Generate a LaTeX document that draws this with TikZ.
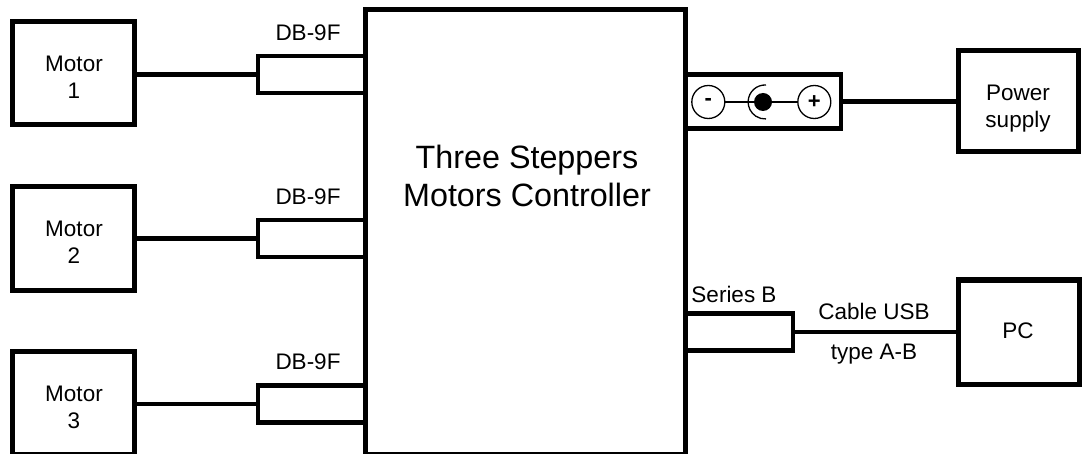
\documentclass[tikz,border=0pt]{standalone}
\usepackage{fontspec}
\setmainfont{Liberation Sans}
\usetikzlibrary{positioning}
\tikzset{
  blockbox/.style={draw,line width=5pt,inner sep=0pt,minimum width=122pt,minimum height=103pt},
  plugbox/.style={draw,line width=4.5pt,minimum width=107pt,minimum height=37pt,inner sep=0pt},
  wire/.style={line width=4.5pt},
  thinwire/.style={line width=1.3pt},
  pin/.style={draw,circle,thinwire,minimum size=33pt,inner sep=0pt,font=\fontsize{22}{22}\selectfont\bfseries},
  caption/.style={font=\fontsize{22.5}{27}\selectfont,align=center,inner sep=0pt},
}
\begin{document}
\begin{tikzpicture}[x=1pt,y=-1pt]
\useasboundingbox (0,0) rectangle (1089,454);
% controller
\node (ctrl) [blockbox,minimum width=320pt,minimum height=445pt] at (525,232) {};
\node (ctrltext) [caption,font=\fontsize{32.3}{38}\selectfont] at (527,176) {Three Steppers\\Motors Controller};
% motors
\foreach \n/\y/\c in {1/73/74.5,2/238.5/238.7,3/403/404}{
  \node (m\n) [blockbox] at (73.5,\y) {};
  \node (mt\n) [caption] at (74,\y+4) {Motor\\\n};
  \node (db\n) [plugbox,anchor=west] at (255.75,\c) {};
  \node (dbl\n) [caption,above=13pt of db\n,xshift=-3.5pt] {DB-9F};
  \draw[wire] (db\n.west) -- (db\n.west -| m\n.east);
}
% right side
\node (pwr) [blockbox,minimum width=120pt,minimum height=101pt] at (1018,101) {};
\node (pwrtext) [caption] at (1018,108.5) {Power\\supply};
\node (pc) [blockbox,minimum width=121pt,minimum height=104pt] at (1018.5,332) {};
\node (pctext) [caption] at (1018,331) {PC};
\node (jack) [plugbox,anchor=west,minimum width=156pt,minimum height=54pt] at (682.75,101.7) {};
\node (usb) [plugbox,anchor=west,minimum width=108pt,minimum height=36.6pt] at (682.75,332) {};
\draw[wire] (jack) -- (jack -| pwr.west);
\draw[wire] (usb) -- (usb -| pc.west);
\node (usbl) [caption,above=8.7pt of usb,xshift=-5pt] {Series B};
\node (cablea) [caption,anchor=base] at (874,319) {Cable USB};
\node (cableb) [caption,anchor=base] at (874,359) {type A-B};
% power jack
\node (minus) [pin] at (708.3,102) {-};
\node (plus) [pin] at (814.3,102) {+};
\node (dot) [circle,fill=black,minimum size=18pt,inner sep=0pt] at (763,102) {};
\draw[thinwire] (minus) -- (dot) -- (plus);
\draw[thinwire] (766,85) arc (87:273:17pt);
\end{tikzpicture}
\end{document}
